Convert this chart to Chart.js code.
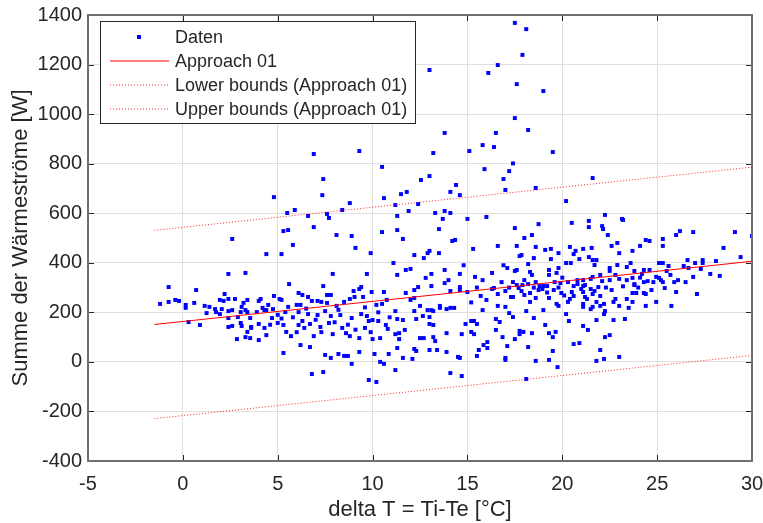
<!DOCTYPE html>
<html>
<head>
<meta charset="utf-8">
<script src="https://cdn.jsdelivr.net/npm/chart.js@4.4.1/dist/chart.umd.min.js"></script>
<style>
  html, body { margin: 0; padding: 0; background: #fff; }
</style>
</head>
<body>
<canvas id="chart" width="763" height="523"></canvas>
<script>
// axis ticks
const xTicks = [-5, 0, 5, 10, 15, 20, 25, 30];
const yTicks = [-400, -200, 0, 200, 400, 600, 800, 1000, 1200, 1400];

// measured points [delta T, Summe der Wärmeströme]
const pointsTop = [
  [17.5,1368],[18.1,1343],[17.9,1239],[16.6,1198],[13.0,1178],[16.1,1166],[17.6,1121],[19.0,1093],
  [17.5,984],[13.8,924],[16.5,924],[18.2,936],[15.8,875],[16.4,867],[13.2,843],[15.1,851],[19.5,847],
  [17.4,801],[6.9,839],[9.3,851],[10.5,787],[7.4,738],[15.9,778],[17.2,770],[12.55,734],[13.0,750],
  [16.9,738],[14.4,714],[21.6,742],[18.6,702]
];
const pointsHigh = [
  [4.8,665],[7.35,673],[10.6,661],[11.5,677],[11.8,686],[8.8,641],[11.2,633],[5.5,601],[5.9,613],
  [7.6,597],[8.4,613],[6.6,589],[7.7,581],[11.9,609],[12.4,637],[11.3,589],[5.3,528],[5.55,532],
  [6.9,544],[10.5,524],[11.3,532],[8.1,512],[8.9,508],[11.6,496],[5.8,472],[9.1,460],[4.4,435],
  [5.2,435],[9.9,439],[12.2,431],[2.6,496],
  [14.1,686],[14.6,673],[17.0,694],[20.2,649],[13.3,601],[13.8,609],[14.1,601],[13.7,577],[15.0,577],
  [16.0,585],[18.75,556],[20.5,561],[13.5,536],[17.5,540],[18.4,512],[18.0,500],[14.2,488],[14.35,492],
  [16.6,468],[17.6,468],[18.6,464],[15.3,456],[19.1,452],[19.4,456],[19.8,439],[20.4,464],[20.7,448],
  [21.1,456],[13.0,448],[12.9,439],[13.5,439],[12.7,419],[17.75,427],[17.85,431],[18.5,419],[19.4,415],
  [20.9,415],[20.6,435],
  [22.25,593],[21.4,569],[21.4,544],[22.1,548],[22.15,536],[23.15,577],[23.2,573],[22.4,512],[26.2,528],
  [26.0,512],[26.9,524],[29.1,524],[30.0,508],[24.4,492],[24.6,488],[25.3,496],[22.9,480],[22.6,468],
  [25.3,468],[24.1,468],[21.55,460],[23.7,448],[23.0,439],[28.5,460],[29.4,423],[21.4,423],[21.6,411],
  [21.8,411],[26.6,411],[27.4,411],[28.1,407]
];
const pointsLeft = [
  [11.1,399],[11.75,371],[12.0,375],[11.3,351],[7.9,355],[9.7,355],[2.4,355],[3.3,359],
  [-0.75,302],[0.7,290],[-1.2,234],[-0.75,242],[-0.4,250],[-0.2,246],[0.15,230],[0.15,218],[0.6,238],
  [0.3,161],[0.9,149],[1.15,226],[1.4,222],[1.25,197],[1.7,213],[1.75,201],[1.95,193],[2.05,213],
  [2.2,274],[1.95,250],[2.15,246],[2.4,254],[2.75,254],[2.4,205],[2.6,209],[2.4,177],[2.4,141],
  [2.6,145],[2.9,181],[3.05,201],[3.1,222],[3.2,238],[3.4,250],[3.3,209],[3.4,201],[3.55,177],
  [3.05,157],[3.1,145],[3.6,141],[3.4,121],[3.3,100],[2.85,92],[3.55,96],
  [5.6,314],[4.1,254],[4.0,246],[4.8,266],[5.1,254],[5.2,250],[6.1,278],[6.3,270],[6.6,262],[6.8,246],
  [7.1,246],[7.4,306],[7.6,270],[7.8,270],[7.6,238],[7.3,242],[6.0,230],[6.2,230],[5.55,222],[8.1,226],
  [8.5,242],[8.8,254],[9.05,262],[9.0,286],[9.3,294],[9.4,302],[9.95,282],[10.6,282],[9.5,262],
  [10.2,230],[10.5,234],[10.75,250],[11.75,278],[12.2,290],[12.2,258],[3.9,201],[4.3,209],[4.4,209],
  [4.2,218],[4.75,213],[5.4,201],[6.1,201],[6.6,193],[7.1,189],[7.5,205],[7.8,185],[8.3,189],[8.9,177],
  [9.4,193],[9.7,185],[9.8,165],[10.0,169],[10.3,165],[10.7,149],[11.2,205],[11.3,173],[11.6,169],
  [12.2,205],[3.6,137],[4.0,153],[4.3,137],[4.4,108],[4.0,88],[4.7,177],[5.0,157],[5.3,149],[5.45,121],
  [5.7,104],[6.1,149],[6.4,137],[6.7,153],[6.9,104],[7.25,141],[7.7,157],[7.9,112],[8.4,137],[8.6,116],
  [8.8,104],[9.3,96],[9.6,137],[10.0,92],[10.4,96],[10.8,133],[11.2,112],[11.4,116],[11.7,129],
  [11.4,92],[12.2,52],[11.3,56],[5.3,36],[6.2,68],[6.7,60],[7.5,28],[7.8,16],[8.2,32],[8.5,24],
  [8.7,24],[8.9,-8],[9.3,40],[10.1,32],[10.4,0],[10.6,-8],[10.85,32],[11.2,-33],[11.6,16],[6.8,-49],
  [7.4,-41],[9.8,-73],[10.2,-81],[12.1,12],
  [4.5,230],[5.0,190],[5.8,180],[6.3,165],[6.5,215],[5.2,175],[4.6,150],[6.0,120],
  [7.0,170],[7.3,120],[8.0,160],[8.2,210],[8.7,150],[9.1,130],[9.6,220],[9.9,120],[10.3,200],[10.9,180]
];
const pointsRight = [
  [20.2,399],[20.45,399],[18.2,395],[19.8,379],[17.1,379],[17.5,367],[17.6,371],[18.3,363],[19.3,371],
  [13.1,355],[13.8,371],[14.6,355],[16.3,359],[15.4,343],[12.8,339],[18.4,351],[19.7,359],[19.3,351],
  [21.7,391],[23.6,399],[23.4,383],[25.1,399],[25.3,399],[27.0,399],[27.4,399],[22.9,391],[22.5,379],
  [22.5,367],[25.6,387],[26.4,387],[26.65,379],[27.3,375],[23.8,367],[24.3,371],[24.6,371],[25.5,367],
  [22.8,351],[22.0,351],[24.2,355],[24.95,343],[25.7,351],[26.9,343],[27.8,355],[28.3,347],[21.6,343],
  [23.7,339],
  [21.1,330],[21.5,335],[22.1,326],[22.5,330],[23.0,335],[23.4,330],[23.8,314],[23.8,310],[24.3,322],
  [24.5,326],[24.8,322],[25.1,339],[25.2,330],[25.3,322],[25.9,322],[26.1,330],[26.5,322],[21.1,306],
  [21.2,310],[21.5,294],[21.9,302],[21.1,282],[21.7,286],[22.0,266],[21.6,274],[21.2,262],[21.3,254],
  [25.4,298],[26.0,282],[23.7,278],[23.9,278],[24.3,278],[24.4,274],[27.1,274],[23.4,254],[22.8,254],
  [22.7,242],[23.7,242],[21.8,242],[22.2,234],[22.0,226],[21.6,222],[21.1,222],[21.5,213],[23.0,226],
  [23.5,218],[24.4,226],[24.95,242],[25.75,226],[22.25,205],[22.2,193],[21.8,169],[22.7,169],[23.3,173],
  [21.1,145],[21.35,129],[22.25,100],[22.5,108],[22.0,48],[21.8,4],[22.2,12],[23.0,20],
  [13.8,318],[15.8,330],[16.8,322],[17.4,322],[17.6,310],[18.0,330],[18.2,314],[18.6,322],[18.8,306],
  [19.0,306],[19.2,306],[19.6,322],[19.9,318],[20.3,322],[20.6,306],[20.8,314],[21.0,294],[12.4,302],
  [13.1,306],[14.1,286],[14.6,290],[14.6,302],[15.0,282],[15.7,266],[16.3,294],[16.4,298],[16.6,274],
  [17.0,286],[17.3,262],[17.4,262],[17.7,298],[17.85,286],[18.0,270],[18.3,278],[18.3,242],[18.6,258],
  [18.75,290],[18.95,294],[19.3,258],[19.55,290],[19.7,234],[19.8,226],[19.95,278],[20.3,242],
  [20.4,254],[20.5,282],[20.6,266],[21.1,234],[16.6,226],[17.0,222],[17.2,197],[17.4,181],[18.1,205],
  [18.5,177],[19.0,209],[19.1,149],[20.2,193],[20.35,165],[15.8,209],[12.5,226],[12.9,209],[13.1,209],
  [13.2,205],[13.55,226],[13.55,218],[13.9,213],[14.1,218],[14.3,218],[12.65,185],[13.0,181],[13.0,153],
  [13.2,149],[12.3,173],[14.9,153],[15.2,165],[15.35,165],[15.5,153],[16.5,173],[16.7,161],[16.5,129],
  [16.85,100],[15.2,121],[15.35,112],[13.9,116],[14.7,112],[17.5,92],[17.75,112],[17.75,125],
  [17.95,121],[18.4,116],[19.3,116],[19.65,121],[19.5,100],[12.5,96],[12.7,96],[13.2,100],[13.3,84],
  [20.6,72],[20.9,76],[15.85,68],[16.05,80],[16.05,56],[17.1,64],[18.2,60],[19.5,44],[12.3,44],
  [13.0,48],[13.4,48],[13.9,40],[15.6,48],[15.5,24],[14.5,20],[14.6,16],[17.0,16],[17.0,8],[18.6,4],
  [19.3,8],[19.75,-21],[14.1,-45],[14.7,-57],[18.1,-69],
  [17.2,300],[17.9,310],[18.5,300],[19.2,280],[19.8,300],[20.0,340],[20.8,330],[20.1,268],
  [22.3,300],[22.6,290],[23.2,305],[24.0,300],[24.7,290],[24.1,340],
  [14.0,330],[14.8,390],[15.5,300],[16.0,250],[16.9,390],[12.0,250],[15.2,240]
];

// fit and bounds (end points)
const fitX = [-1.5, 30];
const fitY = [151, 406];
const lowerY = [-229, 26];
const upperY = [531, 786];

const labels = ["Daten", "Approach 01", "Lower bounds (Approach 01)", "Upper bounds (Approach 01)"];

const FONT = "'Liberation Sans', Arial, sans-serif";
const TEXT = "#262626";

const measured = pointsTop.concat(pointsHigh, pointsLeft, pointsRight).map((p) => ({ x: p[0], y: p[1] }));
const toLine = (ys) => fitX.map((x, i) => ({ x: x, y: ys[i] }));

// matlab style box, inward ticks and legend
const matlabAxes = {
  id: "matlabAxes",
  afterDraw(chart) {
    const ctx = chart.ctx;
    const a = chart.chartArea;
    const xs = chart.scales.x;
    const ys = chart.scales.y;
    ctx.save();

    ctx.strokeStyle = TEXT;
    ctx.lineWidth = 1;
    ctx.beginPath();
    xTicks.forEach((v) => {
      const px = Math.round(xs.getPixelForValue(v)) + 0.5;
      ctx.moveTo(px, a.bottom); ctx.lineTo(px, a.bottom - 6);
      ctx.moveTo(px, a.top); ctx.lineTo(px, a.top + 6);
    });
    yTicks.forEach((v) => {
      const py = Math.round(ys.getPixelForValue(v)) + 0.5;
      ctx.moveTo(a.left, py); ctx.lineTo(a.left + 6, py);
      ctx.moveTo(a.right, py); ctx.lineTo(a.right - 6, py);
    });
    ctx.stroke();

    ctx.strokeStyle = "#6f6f6f";
    ctx.lineWidth = 2;
    ctx.strokeRect(a.left, a.top, a.right - a.left, a.bottom - a.top);

    // legend
    const lx = 100.5, ly = 21.5, lw = 315, lh = 102;
    ctx.fillStyle = "#fff";
    ctx.fillRect(lx, ly, lw, lh);
    ctx.strokeStyle = TEXT;
    ctx.lineWidth = 1;
    ctx.strokeRect(lx, ly, lw, lh);
    const rows = [37, 61, 85, 109];
    chart.data.datasets.forEach((ds, i) => {
      const y = rows[i];
      if (i === 0) {
        ctx.fillStyle = ds.backgroundColor;
        ctx.fillRect(137, y - 2, 4, 4);
      } else {
        ctx.strokeStyle = ds.borderColor;
        ctx.lineWidth = ds.borderWidth;
        ctx.setLineDash(ds.borderDash || []);
        ctx.beginPath();
        ctx.moveTo(110, y);
        ctx.lineTo(169, y);
        ctx.stroke();
        ctx.setLineDash([]);
      }
      ctx.fillStyle = TEXT;
      ctx.font = "18px " + FONT;
      ctx.textAlign = "left";
      ctx.textBaseline = "middle";
      ctx.fillText(ds.label, 175, y + 1);
    });
    ctx.restore();
  }
};

new Chart(document.getElementById("chart"), {
  type: "scatter",
  data: {
    datasets: [
      {
        label: labels[0],
        data: measured,
        pointStyle: "rect",
        pointRadius: 2.8,
        pointHoverRadius: 2.8,
        backgroundColor: "#0000ff",
        borderColor: "#0000ff",
        borderWidth: 0,
        order: 1,
      },
      {
        label: labels[1],
        type: "line",
        data: toLine(fitY),
        borderColor: "#ff0000",
        borderWidth: 1,
        pointRadius: 0,
        order: 0,
      },
      {
        label: labels[2],
        type: "line",
        data: toLine(lowerY),
        borderColor: "rgba(255,0,0,0.85)",
        borderWidth: 1,
        borderDash: [1, 2],
        pointRadius: 0,
        order: 0,
      },
      {
        label: labels[3],
        type: "line",
        data: toLine(upperY),
        borderColor: "rgba(255,0,0,0.85)",
        borderWidth: 1,
        borderDash: [1, 2],
        pointRadius: 0,
        order: 0,
      },
    ],
  },
  options: {
    responsive: false,
    animation: false,
    events: [],
    layout: { padding: { top: 15, right: 0, left: 0, bottom: 0 } },
    plugins: {
      legend: { display: false },
      tooltip: { enabled: false },
    },
    scales: {
      x: {
        type: "linear",
        min: xTicks[0],
        max: xTicks[xTicks.length - 1],
        afterBuildTicks: (s) => { s.ticks = xTicks.map((v) => ({ value: v })); },
        afterFit: (s) => { s.height = 62; s.paddingLeft = 0; s.paddingRight = 11; },
        ticks: { color: TEXT, font: { family: FONT, size: 20 }, padding: 11, callback: (v) => String(v) },
        grid: { color: "#dfdfdf", drawTicks: false },
        border: { display: false },
        title: {
          display: true,
          text: "delta T = Ti-Te [°C]",
          color: TEXT,
          font: { family: FONT, size: 22 },
          padding: { top: 0, bottom: 0 },
        },
      },
      y: {
        type: "linear",
        min: yTicks[0],
        max: yTicks[yTicks.length - 1],
        afterBuildTicks: (s) => { s.ticks = yTicks.map((v) => ({ value: v })); },
        afterFit: (s) => { s.width = 88; s.paddingTop = 0; s.paddingBottom = 0; },
        ticks: { color: TEXT, font: { family: FONT, size: 20 }, padding: 6, callback: (v) => String(v) },
        grid: { color: "#dfdfdf", drawTicks: false },
        border: { display: false },
        title: {
          display: true,
          text: "Summe der Wärmeströme [W]",
          color: TEXT,
          font: { family: FONT, size: 22 },
          padding: { top: 8, bottom: 8 },
        },
      },
    },
  },
  plugins: [matlabAxes],
});
</script>
</body>
</html>
